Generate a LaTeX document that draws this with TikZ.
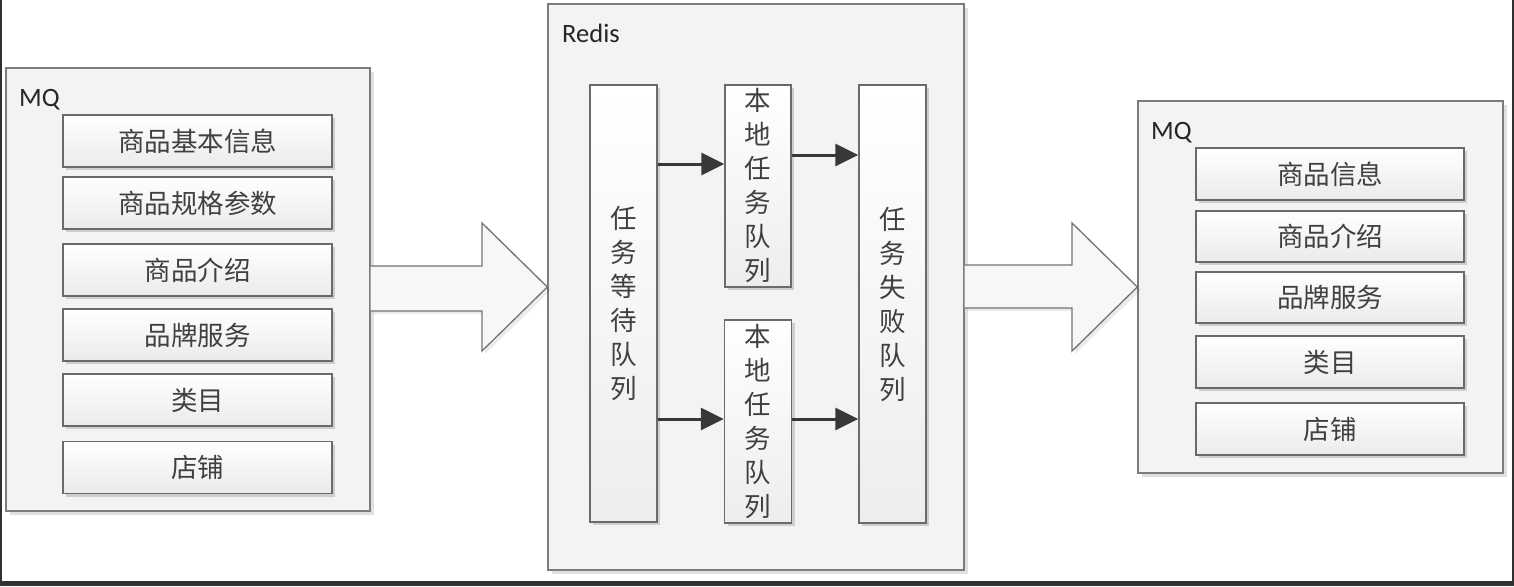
\documentclass[tikz,border=0pt]{standalone}
\usepackage{fontspec}
\setmainfont{Carlito}
\newfontfamily\cjk{Noto Sans CJK SC}
\usetikzlibrary{arrows.meta,shadows}
\definecolor{bord}{HTML}{7C7C7C}
\definecolor{ibord}{HTML}{6A6A6A}
\definecolor{outfill}{HTML}{F3F3F3}
\definecolor{txt}{HTML}{404040}
\definecolor{arrc}{HTML}{383838}
\definecolor{frame}{HTML}{303030}
\tikzset{
  outerbox/.style={draw=bord, line width=1.4pt, fill=outfill, inner sep=0pt,
    drop shadow={shadow xshift=4pt, shadow yshift=-4pt, opacity=0.12, fill=black}},
  itembox/.style={draw=ibord, line width=1.4pt, top color=white, bottom color=black!8,
    inner sep=0pt, minimum height=52pt, text=txt,
    font=\cjk\fontsize{26.5pt}{30pt}\selectfont,
    drop shadow={shadow xshift=3pt, shadow yshift=-3pt, opacity=0.15, fill=black}},
  colbox/.style={draw=ibord, line width=1.4pt, top color=white, bottom color=black!7,
    inner sep=0pt, minimum width=67pt, text=txt, align=center,
    font=\cjk\fontsize{26.5pt}{34pt}\selectfont,
    drop shadow={shadow xshift=3pt, shadow yshift=-3pt, opacity=0.15, fill=black}},
  boxlabel/.style={anchor=base west, inner sep=0pt, text=black!85,
    font=\fontsize{26.5pt}{30pt}\selectfont},
  arr/.style={draw=arrc, line width=3pt, -{Triangle[length=23pt,width=22pt]}},
  bigarrowfill/.style={fill=black!3, draw=none},
  bigarrowline/.style={draw=black!55, line width=1.3pt, line join=miter},
}
\begin{document}
\begin{tikzpicture}[x=1pt,y=-1pt]
\useasboundingbox (0,0) rectangle (1514,586);
\fill[white] (0,0) rectangle (1514,586);

% left MQ
\node[outerbox, minimum width=364pt, minimum height=443pt] (lmq) at (188,289.5) {};
\node[boxlabel] (lmqlab) at (19,106) {MQ};
\node[itembox, minimum width=269pt] (lb1) at (197.5,141) {商品基本信息};
\node[itembox, minimum width=269pt] (lb2) at (197.5,203) {商品规格参数};
\node[itembox, minimum width=269pt] (lb3) at (197.5,270) {商品介绍};
\node[itembox, minimum width=269pt] (lb4) at (197.5,335) {品牌服务};
\node[itembox, minimum width=269pt] (lb5) at (197.5,400) {类目};
\node[itembox, minimum width=269pt] (lb6) at (197.5,467.5) {店铺};

% Redis
\node[outerbox, minimum width=416pt, minimum height=566pt] (redis) at (756,287) {};
\node[boxlabel] (redislab) at (562,42) {Redis};
\node[colbox, minimum height=437pt] (wait) at (623.5,303.5) {任\\务\\等\\待\\队\\列};
\node[colbox, minimum height=202pt, minimum width=66pt] (loc1) at (758,186) {本\\地\\任\\务\\队\\列};
\node[colbox, minimum height=203pt, minimum width=67pt] (loc2) at (758,421.5) {本\\地\\任\\务\\队\\列};
\node[colbox, minimum height=438pt] (fail) at (892.5,304) {任\\务\\失\\败\\队\\列};

\draw[arr] (wait.east |- 0,164) -- (loc1.west |- 0,164);
\draw[arr] (loc1.east |- 0,155) -- (fail.west |- 0,155);
\draw[arr] (wait.east |- 0,419) -- (loc2.west |- 0,419);
\draw[arr] (loc2.east |- 0,419) -- (fail.west |- 0,419);

% right MQ
\node[outerbox, minimum width=365pt, minimum height=372pt] (rmq) at (1320.5,287) {};
\node[boxlabel] (rmqlab) at (1151,139) {MQ};
\node[itembox, minimum width=268pt] (rb1) at (1330,174) {商品信息};
\node[itembox, minimum width=268pt, minimum height=51pt] (rb2) at (1330,236.5) {商品介绍};
\node[itembox, minimum width=268pt, minimum height=51pt] (rb3) at (1330,297.5) {品牌服务};
\node[itembox, minimum width=268pt] (rb4) at (1330,362) {类目};
\node[itembox, minimum width=268pt] (rb5) at (1330,429) {店铺};

% big arrows
\fill[black, opacity=0.08] (373,269) -- (485,269) -- (485,226) -- (551,290) -- (485,354) -- (485,314) -- (373,314) -- cycle;
\path[bigarrowfill] (lmq.east |- 0,266) -- (482,266) -- (482,223) -- (redis.west |- 0,287) -- (482,351) -- (482,311) -- (lmq.east |- 0,311) -- cycle;
\draw[bigarrowline] (lmq.east |- 0,266) -- (482,266) -- (482,223) -- (redis.west |- 0,287) -- (482,351) -- (482,311) -- (lmq.east |- 0,311);

\fill[black, opacity=0.08] (967,268) -- (1075,268) -- (1075,226) -- (1141,290) -- (1075,354) -- (1075,311) -- (967,311) -- cycle;
\path[bigarrowfill] (redis.east |- 0,265) -- (1072,265) -- (1072,223) -- (rmq.west |- 0,287) -- (1072,351) -- (1072,308) -- (redis.east |- 0,308) -- cycle;
\draw[bigarrowline] (redis.east |- 0,265) -- (1072,265) -- (1072,223) -- (rmq.west |- 0,287) -- (1072,351) -- (1072,308) -- (redis.east |- 0,308);

% screenshot frame
\fill[frame] (0,0) rectangle (2,586);
\fill[frame] (1512,0) rectangle (1514,586);
\fill[frame] (0,581) rectangle (1514,586);
\end{tikzpicture}
\end{document}
